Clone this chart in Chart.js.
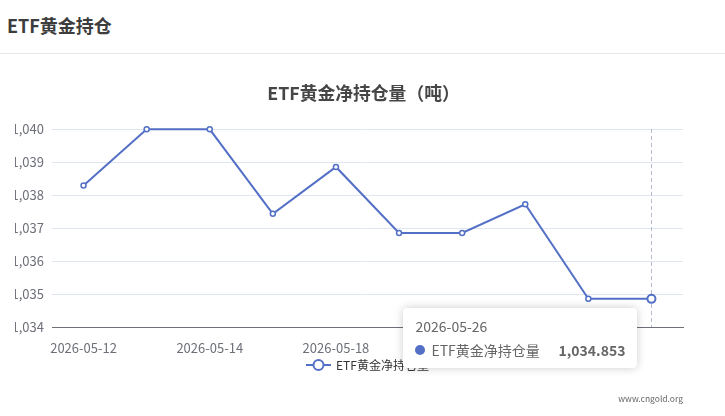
<!DOCTYPE html>
<html>
<head>
<meta charset="utf-8">
<script src="https://cdn.jsdelivr.net/npm/chart.js@4"></script>
<style>
  body { margin: 0; width: 725px; height: 416px; overflow: hidden; background: #fff;
         font-family: "Noto Sans CJK SC", "Noto Sans", sans-serif; position: relative; }
  #cabecera { position: absolute; left: 7px; top: 12px; font-size: 18px; font-weight: bold; color: #3d3d3d; }
  #linea { position: absolute; left: 0; top: 53px; width: 725px; height: 1px; background: #e6e6e6; }
  #caja { position: absolute; left: 15px; top: 55px; width: 710px; height: 361px; overflow: hidden; }
  #grafico { position: absolute; left: -25px; top: 0; }
  #marca { position: absolute; right: 42px; top: 392px; font-size: 8.5px; color: #666; }
  #tip { position: absolute; background: #fff; border-radius: 4px; box-shadow: 0 0 10px rgba(0,0,0,0.2);
         padding: 8px 12px; color: #666; font-size: 14px; width: 210px; pointer-events: none; z-index: 5; }
  #tip .fila { display: flex; align-items: center; margin-top: 4px; }
  #tip .punto { width: 10px; height: 10px; border-radius: 50%; background: #5470c6; margin-right: 6px; }
  #tip .valor { margin-left: auto; font-weight: bold; }
</style>
</head>
<body>
<div id="cabecera">ETF黄金持仓</div>
<div id="linea"></div>
<div id="caja"><canvas id="grafico" width="745" height="361"></canvas></div>
<div id="marca">www.cngold.org</div>

<script>
// fechas del eje x
const fechas = ['2026-05-12', '2026-05-13', '2026-05-14', '2026-05-15', '2026-05-18',
                '2026-05-19', '2026-05-20', '2026-05-21', '2026-05-22', '2026-05-26'];
// toneladas de oro en el ETF
const toneladas = [1038.29, 1039.99, 1039.99, 1037.43, 1038.85, 1036.85, 1036.85, 1037.72, 1034.853, 1034.853];
const nombreSerie = 'ETF黄金净持仓量';
const tituloGrafico = 'ETF黄金净持仓量（吨）';

const azul = '#5470c6';
const fuente = '"Noto Sans CJK SC", "Noto Sans", sans-serif';
// desplazamiento del canvas respecto a la pagina
const offX = -10, offY = 55;

function formato(v) {
  return v.toLocaleString('en-US', { minimumFractionDigits: 3, maximumFractionDigits: 3 });
}

// titulo centrado en el canvas
const titulo = {
  id: 'titulo',
  afterDraw(chart) {
    const ctx = chart.ctx;
    ctx.save();
    ctx.fillStyle = '#464646';
    ctx.font = 'bold 17.8px ' + fuente;
    ctx.textAlign = 'center';
    ctx.textBaseline = 'middle';
    ctx.fillText(tituloGrafico, 373.5, 38);
    ctx.restore();
  }
};

// linea discontinua vertical en el punto activo
const lineaGuia = {
  id: 'lineaGuia',
  beforeDatasetsDraw(chart) {
    const activos = chart.getActiveElements();
    if (!activos.length) return;
    const x = activos[0].element.x;
    const ctx = chart.ctx;
    ctx.save();
    ctx.strokeStyle = '#b6bccb';
    ctx.lineWidth = 1;
    ctx.setLineDash([4, 3]);
    ctx.beginPath();
    ctx.moveTo(Math.round(x) + 0.5, chart.chartArea.top);
    ctx.lineTo(Math.round(x) + 0.5, chart.chartArea.bottom);
    ctx.stroke();
    ctx.restore();
  }
};

// leyenda estilo linea con circulo
const leyenda = {
  id: 'leyenda',
  afterDraw(chart) {
    const ctx = chart.ctx;
    const y = 310;
    const x0 = 316;
    ctx.save();
    ctx.strokeStyle = azul;
    ctx.lineWidth = 2;
    ctx.beginPath();
    ctx.moveTo(x0, y);
    ctx.lineTo(x0 + 25, y);
    ctx.stroke();
    ctx.beginPath();
    ctx.arc(x0 + 12.5, y, 5, 0, Math.PI * 2);
    ctx.fillStyle = '#fff';
    ctx.fill();
    ctx.stroke();
    ctx.fillStyle = '#333';
    ctx.font = '12px ' + fuente;
    ctx.textBaseline = 'middle';
    ctx.fillText(chart.data.datasets[0].label, x0 + 30, y);
    ctx.restore();
  }
};

function tooltipExterno(context) {
  let tip = document.getElementById('tip');
  if (!tip) {
    tip = document.createElement('div');
    tip.id = 'tip';
    document.body.appendChild(tip);
  }
  const t = context.tooltip;
  if (t.opacity === 0) { tip.style.display = 'none'; return; }
  const p = t.dataPoints[0];
  tip.innerHTML = '<div>' + p.label + '</div>' +
    '<div class="fila"><span class="punto"></span><span>' + p.dataset.label +
    '</span><span class="valor">' + formato(p.raw) + '</span></div>';
  tip.style.display = 'block';
  tip.style.left = (offX + t.caretX - 248) + 'px';
  tip.style.top = (offY + t.caretY + 9) + 'px';
}

const ctx = document.getElementById('grafico');

const grafico = new Chart(ctx, {
  type: 'line',
  data: {
    labels: fechas,
    datasets: [{
      label: nombreSerie,
      data: toneladas,
      clip: false,
      borderColor: azul,
      borderWidth: 2,
      tension: 0,
      pointRadius: 2.5,
      pointBorderWidth: 1.5,
      pointBackgroundColor: '#fff',
      pointBorderColor: azul,
      pointHoverRadius: 4,
      pointHoverBorderWidth: 2,
      pointHoverBackgroundColor: '#fff',
      pointHoverBorderColor: azul
    }]
  },
  options: {
    responsive: false,
    animation: false,
    events: [],
    layout: { padding: { top: 74, left: 0, right: 52, bottom: 59 } },
    plugins: {
      legend: { display: false },
      title: { display: false },
      tooltip: { enabled: false, external: tooltipExterno }
    },
    scales: {
      x: {
        offset: true,
        grid: { display: false },
        border: { color: '#6e7079', width: 1 },
        afterFit(scale) { scale.height = 30; },
        ticks: {
          autoSkip: false,
          maxRotation: 0,
          padding: 5,
          color: '#6e7079',
          font: { family: fuente, size: 13 },
          callback(v, i) { return i % 2 === 0 ? this.getLabelForValue(v) : ''; }
        }
      },
      y: {
        min: 1034,
        max: 1040,
        grid: { color: '#e0e6f1', drawTicks: false },
        border: { display: false },
        afterFit(scale) { scale.width = 62; },
        ticks: {
          stepSize: 1,
          padding: 8,
          color: '#6e7079',
          font: { family: fuente, size: 13 }
        }
      }
    }
  },
  plugins: [titulo, lineaGuia, leyenda]
});

const activo = [{ datasetIndex: 0, index: toneladas.length - 1 }];
grafico.setActiveElements(activo);
const el = grafico.getDatasetMeta(0).data[toneladas.length - 1];
grafico.tooltip.setActiveElements(activo, { x: el.x, y: el.y });
grafico.update();
</script>
</body>
</html>
